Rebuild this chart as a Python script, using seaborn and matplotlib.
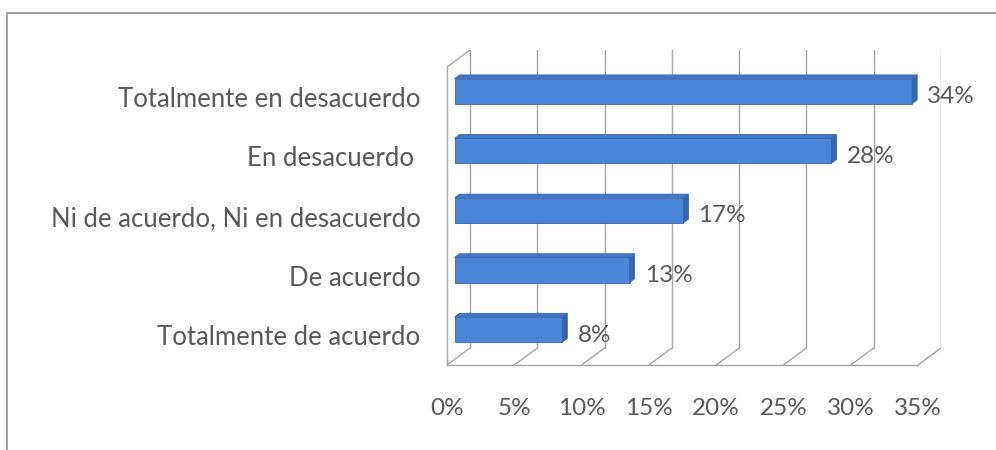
import matplotlib
matplotlib.use("Agg")
import matplotlib.pyplot as plt
from matplotlib.patches import Polygon, Rectangle
import seaborn as sns

# Survey responses (share of respondents, %)
categories = [
    "Totalmente en desacuerdo",
    "En desacuerdo ",
    "Ni de acuerdo, Ni en desacuerdo",
    "De acuerdo",
    "Totalmente de acuerdo",
]
values = [34, 28, 17, 13, 8]
x_ticks = [0, 5, 10, 15, 20, 25, 30, 35]
x_tick_labels = [f"{t}%" for t in x_ticks]

sns.set_style("white")
plt.rcParams["font.family"] = ["Lato", "DejaVu Sans"]

TEXT = "#595959"
GRID = "#a6a6a6"
FACE = "#4a86d8"
TOP = "#4277c8"
SIDE = "#3566b4"
EDGE = "#3a68b0"

W, H = 996, 450
fig = plt.figure(figsize=(W / 100, H / 100), dpi=100)

# 3-D depth offsets of the back wall, in data units
DX = 1.71   # along the value axis
DY = 0.285  # along the category axis
F1, F2 = 0.33, 0.55  # front / back planes of the bars within the depth

ax = fig.add_axes([447 / W, 1 - 365 / H, (941 - 447) / W, (365 - 50) / H])

sns.barplot(x=values, y=categories, orient="h", width=0.42, color=FACE,
            saturation=1, ax=ax, zorder=3, edgecolor=EDGE, linewidth=0.6)

ax.set_xlim(0, x_ticks[-1] + DX)
n = len(categories)
ax.set_ylim(n - 0.5, -0.5 - DY)

# back wall gridlines and floor diagonals
for t in x_ticks:
    ax.plot([t + DX, t + DX], [n - 0.5 - DY, -0.5 - DY], color=GRID, lw=1.0, zorder=1)
    ax.plot([t, t + DX], [n - 0.5, n - 0.5 - DY], color=GRID, lw=1.0, zorder=1)
# top-left edge of the side wall
ax.plot([0, DX], [-0.5, -0.5 - DY], color=GRID, lw=1.0, zorder=1)

# give each bar its 3-D top and end faces
d = F2 - F1
for p in ax.patches:
    p.set_x(p.get_x() + F1 * DX)
    p.set_y(p.get_y() - F1 * DY)
    x0, y0 = p.get_x(), p.get_y()
    x1, h = x0 + p.get_width(), p.get_height()
    top = Polygon([(x0, y0), (x1, y0), (x1 + d * DX, y0 - d * DY), (x0 + d * DX, y0 - d * DY)],
                  closed=True, facecolor=TOP, edgecolor=EDGE, lw=0.6, zorder=3)
    side = Polygon([(x1, y0), (x1, y0 + h), (x1 + d * DX, y0 + h - d * DY), (x1 + d * DX, y0 - d * DY)],
                   closed=True, facecolor=SIDE, edgecolor=EDGE, lw=0.6, zorder=3)
    ax.add_patch(top)
    ax.add_patch(side)

# value labels
for i, v in enumerate(values):
    ax.text(v + F2 * DX + 0.75, i, f"{v}%", va="center", ha="left",
            fontsize=17.5, color=TEXT, zorder=4)

# axes styling
for s in ("top", "right"):
    ax.spines[s].set_visible(False)
ax.spines["bottom"].set_bounds(0, x_ticks[-1])
ax.spines["left"].set_bounds(-0.5, n - 0.5)
for s in ("bottom", "left"):
    ax.spines[s].set_color(GRID)
    ax.spines[s].set_linewidth(1.0)

ax.set_xticks(x_ticks)
ax.set_xticklabels(x_tick_labels)
ax.set_yticks([i - 0.5 for i in range(n + 1)])
ax.set_yticklabels([])
ax.set_yticks(list(range(n)), minor=True)
ax.set_yticklabels(categories, minor=True)
ax.tick_params(axis="x", which="major", direction="out", length=6, width=1.0,
               color=GRID, labelcolor=TEXT, labelsize=17.5, pad=18)
ax.tick_params(axis="y", which="major", direction="out", length=6, width=1.0, color=GRID)
ax.tick_params(axis="y", which="minor", length=0, labelcolor=TEXT, labelsize=18.5, pad=19)
ax.set_xlabel("")
ax.set_ylabel("")
ax.patch.set_alpha(0)

# chart border
fig.patches.append(Rectangle((7 / W, -0.05), 1.05, 1 - 13 / H + 0.05,
                             transform=fig.transFigure, fill=False,
                             edgecolor="#9a9a9a", lw=1.3, zorder=0))

fig.savefig("out.png", dpi=100)
